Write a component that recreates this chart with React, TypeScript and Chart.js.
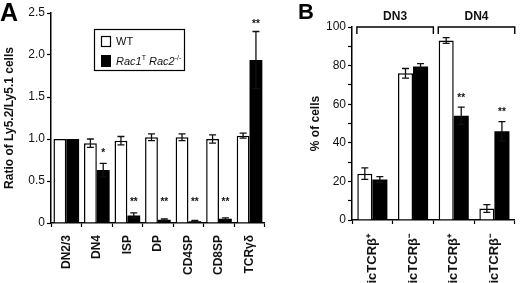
import React, { useEffect, useRef } from 'react';
import { Chart, registerables } from 'chart.js';
Chart.register(...registerables);

// Panel A data
const categoriesA = ['DN2/3', 'DN4', 'ISP', 'DP', 'CD4SP', 'CD8SP', 'TCRγδ'];
const wtA = [1.0, 0.95, 0.98, 1.02, 1.02, 1.0, 1.04];
const wtErrA = [0, 0.05, 0.05, 0.04, 0.04, 0.05, 0.03];
const racA = [1.0, 0.63, 0.09, 0.04, 0.02, 0.05, 1.94];
const racErrA = [0, 0.08, 0.03, 0.01, 0.01, 0.01, 0.34];
const sigA = ['', '*', '**', '**', '**', '**', '**'];
const sigYA = [0, 0.83, 0.25, 0.25, 0.25, 0.25, 2.37];
const yTicksA = [0, 0.5, 1.0, 1.5, 2.0, 2.5];

// Panel B data
const categoriesB = ['icTCRβ⁺', 'icTCRβ⁻', 'icTCRβ⁺', 'icTCRβ⁻'];
const groupsB = ['DN3', 'DN4'];
const wtB = [24, 76, 93, 6];
const wtErrB = [3, 2.5, 1.5, 2];
const racB = [21, 79.5, 54, 46];
const racErrB = [1.5, 1.5, 4.5, 5];
const sigB = ['', '', '**', '**'];
const sigYB = [0, 0, 63, 56];

const FONT = '"Liberation Sans", Arial, sans-serif';
const INK = '#111';

function drawErrors(chart: any, errs: number[][]) {
  const ctx = chart.ctx;
  const y = chart.scales.y;
  ctx.save();
  ctx.strokeStyle = INK;
  ctx.lineWidth = 1.3;
  errs.forEach((arr, di) => {
    const meta = chart.getDatasetMeta(di);
    const data = chart.data.datasets[di].data as number[];
    arr.forEach((e, j) => {
      if (!e) return;
      const bar: any = meta.data[j];
      const x = bar.x;
      const t = y.getPixelForValue(data[j] + e);
      const b = y.getPixelForValue(data[j] - e);
      ctx.beginPath();
      ctx.moveTo(x, t); ctx.lineTo(x, b);
      ctx.moveTo(x - 3.5, t); ctx.lineTo(x + 3.5, t);
      ctx.moveTo(x - 3.5, b); ctx.lineTo(x + 3.5, b);
      ctx.stroke();
    });
  });
  ctx.restore();
}

function drawSig(chart: any, sig: string[], sigY: number[]) {
  const ctx = chart.ctx;
  const meta = chart.getDatasetMeta(1);
  ctx.save();
  ctx.fillStyle = INK;
  ctx.font = `bold 10px ${FONT}`;
  ctx.textAlign = 'center';
  ctx.textBaseline = 'middle';
  sig.forEach((s, j) => {
    if (!s) return;
    ctx.fillText(s, (meta.data[j] as any).x, chart.scales.y.getPixelForValue(sigY[j]));
  });
  ctx.restore();
}

const pluginA = {
  id: 'annotA',
  afterDatasetsDraw(chart: any) {
    drawErrors(chart, [wtErrA, racErrA]);
    drawSig(chart, sigA, sigYA);
    const ctx = chart.ctx;
    ctx.save();
    // panel letter
    ctx.fillStyle = '#000';
    ctx.font = `bold 25px ${FONT}`;
    ctx.textBaseline = 'alphabetic';
    ctx.textAlign = 'left';
    ctx.fillText('A', 0, 21);
    // legend
    ctx.strokeStyle = '#000';
    ctx.lineWidth = 1.2;
    ctx.strokeRect(94.5, 29.5, 90, 41);
    ctx.fillStyle = '#fff';
    ctx.fillRect(101.5, 36.5, 9, 10);
    ctx.strokeRect(101.5, 36.5, 9, 10);
    ctx.fillStyle = '#000';
    ctx.fillRect(101, 55, 10, 12);
    ctx.fillStyle = INK;
    ctx.textBaseline = 'middle';
    ctx.font = `11px ${FONT}`;
    ctx.fillText('WT', 116, 42);
    let x = 116;
    const seg = (txt: string, font: string, dy: number) => {
      ctx.font = font;
      ctx.fillText(txt, x, 62 + dy);
      x += ctx.measureText(txt).width;
    };
    seg('Rac1', `italic 11px ${FONT}`, 0);
    seg('T', `7px ${FONT}`, -4);
    seg(' Rac2', `italic 11px ${FONT}`, 0);
    seg('-/-', `7px ${FONT}`, -4);
    ctx.restore();
  },
};

const pluginB = {
  id: 'annotB',
  afterDatasetsDraw(chart: any) {
    drawErrors(chart, [wtErrB, racErrB]);
    drawSig(chart, sigB, sigYB);
    const ctx = chart.ctx;
    const xs = chart.scales.x;
    const top = chart.chartArea.top;
    const cw = xs.getPixelForValue(1) - xs.getPixelForValue(0);
    ctx.save();
    ctx.fillStyle = '#000';
    ctx.font = `bold 22px ${FONT}`;
    ctx.textAlign = 'left';
    ctx.fillText('B', 26, 19);
    ctx.strokeStyle = '#000';
    ctx.lineWidth = 1.4;
    groupsB.forEach((g, gi) => {
      const l = xs.getPixelForValue(gi * 2) - cw * 0.38;
      const r = xs.getPixelForValue(gi * 2 + 1) + cw * 0.5;
      ctx.beginPath();
      ctx.moveTo(l, top + 7); ctx.lineTo(l, top); ctx.lineTo(r, top); ctx.lineTo(r, top + 7);
      ctx.stroke();
      ctx.fillStyle = INK;
      ctx.font = `bold 12px ${FONT}`;
      ctx.textAlign = 'center';
      ctx.textBaseline = 'middle';
      ctx.fillText(g, (l + r) / 2, top - 10);
    });
    ctx.restore();
  },
};

function makeScales(cfg: any) {
  return {
    x: {
      offset: true,
      grid: { offset: true, drawOnChartArea: false, color: '#000', tickLength: 4, tickWidth: 1.2 },
      border: { color: '#000', width: 1.5 },
      ticks: { color: INK, font: { family: FONT, size: cfg.xfs, weight: 'bold' }, maxRotation: 90, minRotation: 90, autoSkip: false, padding: cfg.xpad },
      afterFit: (s: any) => { s.height = cfg.xh; },
    },
    y: {
      min: 0, max: cfg.max,
      grid: { drawOnChartArea: false, color: '#000', tickLength: 4, tickWidth: 1.2 },
      border: { color: '#000', width: 1.5 },
      ticks: { color: INK, font: { family: FONT, size: 12 }, padding: 2, stepSize: cfg.step, callback: cfg.cb, autoSkip: false },
      title: { display: true, text: cfg.title, color: INK, font: { family: FONT, size: 12, weight: 'bold' }, padding: { top: cfg.tp, bottom: 0 } },
      afterFit: (s: any) => { s.width = cfg.yw; },
    },
  };
}

function dsets(wt: number[], rac: number[], cp: number) {
  return [
    { label: 'WT', data: wt, backgroundColor: '#fff', borderColor: '#000', borderWidth: 1.5, categoryPercentage: cp, barPercentage: 1.0 },
    { label: 'Rac1ᵀ Rac2⁻ᐟ⁻', data: rac, backgroundColor: '#000', borderColor: '#000', borderWidth: 0, categoryPercentage: cp, barPercentage: 1.0 },
  ];
}

export default function App() {
  const refA = useRef<HTMLCanvasElement>(null);
  const refB = useRef<HTMLCanvasElement>(null);
  useEffect(() => {
    const common = (pad: any) => ({
      responsive: false, animation: false as const, devicePixelRatio: 1,
      layout: { padding: pad, autoPadding: false },
      plugins: { legend: { display: false }, tooltip: { enabled: false } },
    });
    const a = new Chart(refA.current!, {
      type: 'bar',
      data: { labels: categoriesA, datasets: dsets(wtA, racA, 0.84) as any },
      options: {
        ...common({ top: 13, left: 0, right: 1, bottom: 0 }),
        scales: makeScales({
          max: 2.5, step: 0.5, xh: 60, yw: 51, tp: 2, xfs: 12, xpad: 8,
          title: 'Ratio of Ly5.2/Ly5.1 cells',
          cb: (v: number) => (yTicksA.includes(v) ? (v === 0 ? '0' : v.toFixed(1)) : ''),
        }) as any,
      },
      plugins: [pluginA],
    });
    const b = new Chart(refB.current!, {
      type: 'bar',
      data: { labels: categoriesB, datasets: dsets(wtB, racB, 0.74) as any },
      options: {
        ...common({ top: 27, left: 0, right: 0, bottom: 0 }),
        scales: makeScales({
          max: 100, step: 10, xh: 63, yw: 80, tp: 36, xfs: 13, xpad: 10,
          title: '% of cells',
          cb: (v: number) => (v % 20 === 0 ? String(v) : ''),
        }) as any,
      },
      plugins: [pluginB],
    });
    return () => { a.destroy(); b.destroy(); };
  }, []);
  return (
    <div style={{ position: 'fixed', left: 0, top: 0, width: 520, height: 283, background: '#fff', overflow: 'hidden' }}>
      <canvas ref={refA} width={272} height={283} style={{ position: 'absolute', left: 0, top: 0 }} />
      <canvas ref={refB} width={248} height={283} style={{ position: 'absolute', left: 272, top: 0 }} />
    </div>
  );
}
